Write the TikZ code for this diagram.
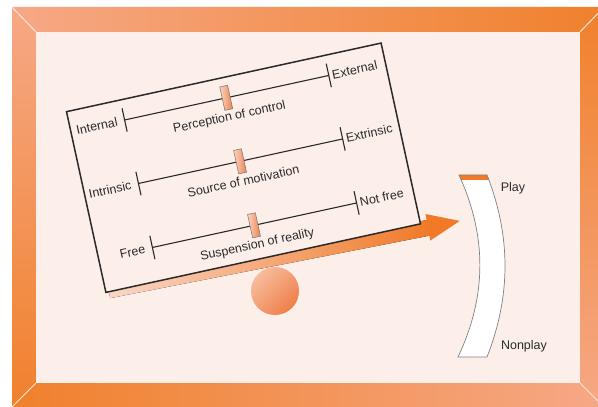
\documentclass[tikz,border=0pt]{standalone}
\usepackage{fontspec}
\setmainfont{Liberation Sans}
\usepackage{tikz}
\usetikzlibrary{positioning}

\definecolor{frameLight}{HTML}{F6A886}
\definecolor{frameDeep}{HTML}{F0812C}
\definecolor{paper}{HTML}{FCEFEA}
\definecolor{bevel}{HTML}{FCE4D6}
\definecolor{ink}{HTML}{2A2A2A}
\definecolor{arrowOrange}{HTML}{F07A28}
\definecolor{knobLight}{HTML}{FBD3BE}
\definecolor{knobDeep}{HTML}{EE8352}
\definecolor{ballLight}{HTML}{F8BC9E}
\definecolor{ballDeep}{HTML}{EE8048}

\newcommand{\lblfont}{\fontsize{12.5}{15}\selectfont}

\begin{document}
\begin{tikzpicture}[x=1pt, y=1pt,
  board/.style={draw=ink, line width=1.5pt, fill=paper},
  scaleline/.style={draw=ink, line width=1.1pt},
  knob/.style={rectangle, draw=black!55, line width=0.5pt, inner sep=0pt,
               minimum width=8pt, minimum height=24pt,
               left color=knobLight, right color=knobDeep},
  endlabel/.style={text=ink, font=\lblfont, inner sep=3.3pt},
  scalename/.style={text=ink, font=\lblfont},
  fulcrum/.style={circle, minimum size=48pt, inner sep=0pt,
                  top color=ballLight, bottom color=ballDeep, shading angle=45},
  barlabel/.style={text=ink, font=\lblfont},
]
  \useasboundingbox (0,0) rectangle (598,407);
  \fill[white] (0,0) rectangle (598,407);
  \clip (0,0) rectangle (598,407);

  % frame
  \shade[left color=frameLight, right color=frameDeep]
    (12,400) -- (604,400) -- (580,375) -- (36,375) -- cycle;
  \shade[top color=frameLight, bottom color=frameDeep]
    (12,400) -- (36,375) -- (36,24) -- (12,0) -- cycle;
  \shade[left color=frameDeep, right color=frameLight]
    (12,0) -- (36,24) -- (580,24) -- (604,0) -- cycle;
  \shade[top color=frameDeep, bottom color=frameLight]
    (604,400) -- (580,375) -- (580,24) -- (604,0) -- cycle;
  \fill[paper] (36,24) rectangle (580,375);
  \draw[bevel, line width=1pt] (12,400) -- (36,375) (604,400) -- (580,375)
    (12,0) -- (36,24) (604,0) -- (580,24);

  % fulcrum
  \node[fulcrum] (ball) at (275,116) {};

  % tilted board with the three scales
  \begin{scope}[shift={(243.5,239.25)}, rotate=12.3, transform shape]
    \fill[left color=frameLight!35!paper, middle color=frameLight,
          right color=arrowOrange]
      (-158,-90) -- (168,-90) -- (168,-106) -- (-158,-99) -- cycle;
    \fill[arrowOrange] (168,-84) -- (200,-98) -- (167,-111) -- cycle;
    \draw[board] (-161,-92.5) rectangle (161,92.5);

    \foreach \v/\lo/\hi/\txt [count=\i] in
      {72/Internal/External/Perception of control,
       7/Intrinsic/Extrinsic/Source of motivation,
       -58.5/Free/Not free/Suspension of reality}{
      \coordinate (left\i) at (-106,\v);
      \coordinate (right\i) at (103,\v);
      \draw[scaleline] (left\i) -- (right\i);
      \draw[scaleline] (left\i) ++(0,-12) -- ++(0,24);
      \draw[scaleline] (right\i) ++(0,-12) -- ++(0,24);
      \node[knob] (knob\i) at (-2,\v) {};
      \node[endlabel, anchor=east] (low\i) at (-110,\v) {\lo};
      \node[endlabel, anchor=west] (high\i) at (103,\v) {\hi};
      \node[scalename] (name\i) at (-3,\v-20) {\txt};
    }
  \end{scope}

  % play / nonplay bar
  \coordinate (bartl) at (459,232);
  \coordinate (bartr) at (487,232);
  \coordinate (barbl) at (458,50);
  \coordinate (barbr) at (487,50);
  \begin{scope}
    \clip (bartl) .. controls (487,171) and (487,111) .. (barbl)
      -- (barbr) .. controls (511,111) and (511,171) .. (bartr) -- cycle;
    \fill[white] (440,40) rectangle (520,240);
    \fill[arrowOrange] (440,227) rectangle (520,240);
  \end{scope}
  \draw[black!50, line width=0.7pt]
    (bartl) .. controls (487,171) and (487,111) .. (barbl)
    -- (barbr) .. controls (511,111) and (511,171) .. (bartr) -- cycle;

  \node[barlabel] (play) at (513,219) {Play};
  \node[barlabel] (nonplay) at (524,61) {Nonplay};
\end{tikzpicture}
\end{document}
